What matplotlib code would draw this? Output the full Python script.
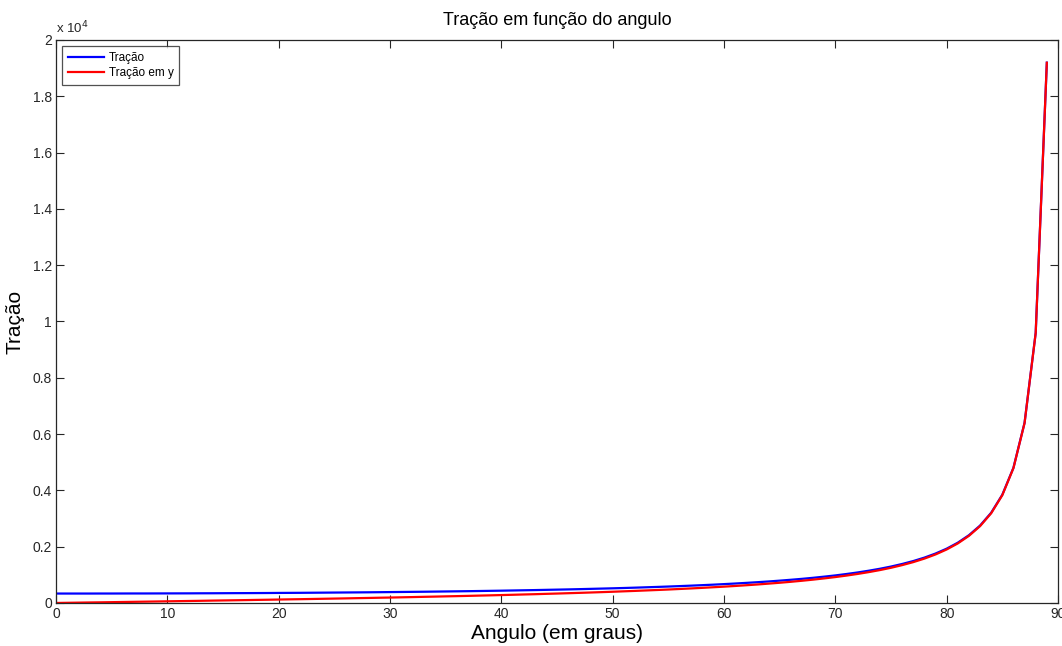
# Tração e componente em y em função do ângulo
import numpy as np
import matplotlib.pyplot as plt
from matplotlib.ticker import FuncFormatter

plt.rcParams['font.family'] = ['Liberation Sans', 'DejaVu Sans']

# Ângulo [graus]
angulo = list(range(0, 90))

# Tração [N]
tracao = [335, 335, 335, 335, 336, 336, 337, 338, 338, 339,
          340, 341, 342, 344, 345, 347, 349, 350, 352, 354,
          357, 359, 361, 364, 367, 370, 373, 376, 379, 383,
          387, 391, 395, 399, 404, 409, 414, 419, 425, 431,
          437, 444, 451, 458, 466, 474, 482, 491, 501, 511,
          521, 532, 544, 557, 570, 584, 599, 615, 632, 650,
          670, 691, 714, 738, 764, 793, 824, 857, 894, 935,
          979, 1029, 1084, 1146, 1215, 1294, 1385, 1489, 1611, 1756,
          1929, 2141, 2407, 2749, 3205, 3844, 4802, 6401, 9599, 19195]

# Tração em y [N]
tracao_y = [0, 6, 12, 18, 23, 29, 35, 41, 47, 53,
            59, 65, 71, 77, 84, 90, 96, 102, 109, 115,
            122, 129, 135, 142, 149, 156, 163, 171, 178, 186,
            193, 201, 209, 218, 226, 235, 243, 252, 262, 271,
            281, 291, 302, 312, 324, 335, 347, 359, 372, 385,
            399, 414, 429, 445, 461, 478, 497, 516, 536, 558,
            580, 604, 630, 657, 687, 718, 752, 789, 829, 873,
            920, 973, 1031, 1096, 1168, 1250, 1344, 1451, 1576, 1723,
            1900, 2115, 2384, 2728, 3187, 3829, 4791, 6392, 9593, 19192]

fig = plt.figure(figsize=(10.62, 6.46), dpi=100)
ax = fig.add_axes([0.0527, 0.0666, 0.9435, 0.8715])

ax.plot(angulo, tracao, color='#0000ff', lw=1.6, label='Tração')
ax.plot(angulo, tracao_y, color='#ff0000', lw=1.6, label='Tração em y')

ax.set_xlim(0, 90)
ax.set_ylim(0, 20000)
ax.set_xticks(np.arange(0, 91, 10))
ax.set_yticks(np.arange(0, 20001, 2000))
ax.yaxis.set_major_formatter(FuncFormatter(lambda v, p: '%g' % (v / 1e4)))

ax.tick_params(direction='in', top=True, right=True, length=6, width=0.8,
               labelsize=10, colors='#262626', pad=3)
for s in ax.spines.values():
    s.set_color('#262626')
    s.set_linewidth(0.9)

ax.text(0, 1.006, r'x 10$^4$', transform=ax.transAxes, fontsize=9.5,
        ha='left', va='bottom', color='#262626')

ax.set_title('Tração em função do angulo', fontsize=13, pad=11)
ax.set_xlabel('Angulo (em graus)', fontsize=15, labelpad=2)
ax.set_ylabel('Tração', fontsize=15, labelpad=6)

leg = ax.legend(loc='upper left', fontsize=8.5, fancybox=False,
                edgecolor='#262626', handlelength=3.1, borderaxespad=0.5,
                borderpad=0.5, labelspacing=0.3, handletextpad=0.35)
leg.get_frame().set_linewidth(0.9)

fig.savefig('out.png', dpi=100)
